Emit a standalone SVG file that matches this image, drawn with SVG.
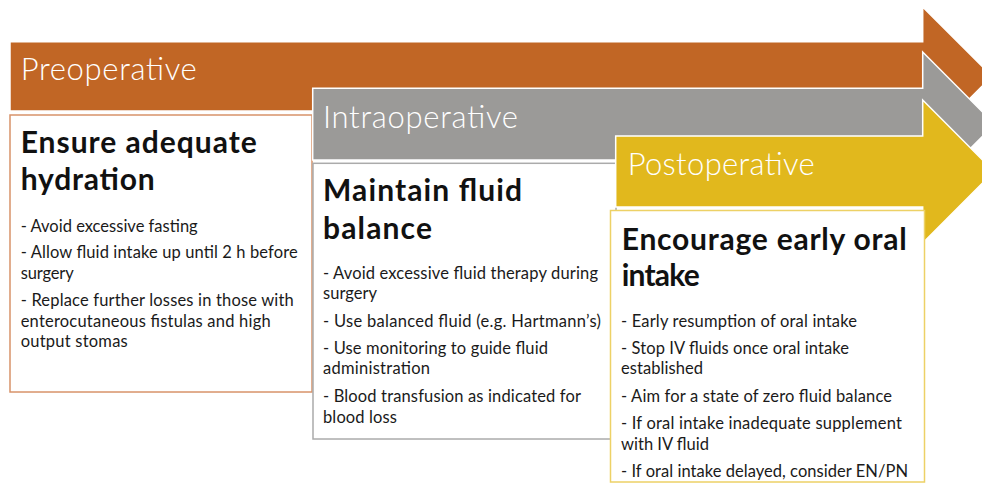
<svg xmlns="http://www.w3.org/2000/svg" width="982" height="483" viewBox="0 0 982 483">
  <style>
    .arrow { stroke: #ffffff; stroke-width: 1.5; stroke-linejoin: miter; }
    .pre-fill { fill: #C16625; }
    .intra-fill { fill: #9B9A98; }
    .post-fill { fill: #E1B81D; }
    .box { fill: #ffffff; stroke-width: 1.5; }
    .pre-box { stroke: #D8936A; }
    .intra-box { stroke: #ABABAB; }
    .post-box { stroke: #EDD166; }
    .phase { font-family: Lato, "Liberation Sans", sans-serif; font-weight: 300; font-size: 31px; fill: #ffffff; }
    .title { font-family: Lato, "Liberation Sans", sans-serif; font-weight: 700; font-size: 30px; fill: #111111; }
    .item { font-family: Lato, "Liberation Sans", sans-serif; font-size: 16.5px; fill: #1a1a1a; }
  </style>

  <!-- Preoperative phase -->
  <g id="preoperative">
    <path class="arrow pre-fill" d="M10,41.7 H922.7 V7 L992,76.3 L922.7,145.6 V111 H10 Z"/>
    <text class="phase" x="20.7" y="80" textLength="176">Preoperative</text>
    <rect class="box pre-box" x="10" y="115" width="302" height="277"/>
    <text class="title" x="20.7" y="153" textLength="236">Ensure adequate</text>
    <text class="title" x="20.7" y="190" textLength="134">hydration</text>
    <text class="item" x="20.7" y="232" textLength="177">- Avoid excessive fasting</text>
    <text class="item" x="20.7" y="258" textLength="277">- Allow fluid intake up until 2 h before</text>
    <text class="item" x="20.7" y="279" textLength="53">surgery</text>
    <text class="item" x="20.7" y="306" textLength="273">- Replace further losses in those with</text>
    <text class="item" x="20.7" y="327" textLength="250">enterocutaneous fistulas and high</text>
    <text class="item" x="20.7" y="347" textLength="107">output stomas</text>
  </g>

  <!-- Intraoperative phase -->
  <g id="intraoperative">
    <path class="arrow intra-fill" d="M312.7,88.3 H922.7 V52 L994.7,124.2 L922.7,196.4 V160 H312.7 Z"/>
    <text class="phase" x="323" y="128" textLength="195">Intraoperative</text>
    <rect class="box intra-box" x="313" y="163.3" width="303" height="275.7"/>
    <text class="title" x="323" y="201" textLength="199">Maintain fluid</text>
    <text class="title" x="323" y="239" textLength="109">balance</text>
    <text class="item" x="323" y="279" textLength="275">- Avoid excessive fluid therapy during</text>
    <text class="item" x="323" y="299" textLength="54">surgery</text>
    <text class="item" x="323" y="327" textLength="278">- Use balanced fluid (e.g. Hartmann’s)</text>
    <text class="item" x="323" y="354" textLength="225">- Use monitoring to guide fluid</text>
    <text class="item" x="323" y="374" textLength="107">administration</text>
    <text class="item" x="323" y="402" textLength="258">- Blood transfusion as indicated for</text>
    <text class="item" x="323" y="423" textLength="74">blood loss</text>
  </g>

  <!-- Postoperative phase -->
  <g id="postoperative">
    <path class="arrow post-fill" d="M615.7,136 H922.7 V100 L994,171.5 L922.7,243 V207 H615.7 Z"/>
    <text class="phase" x="627.7" y="175" textLength="187">Postoperative</text>
    <rect class="box post-box" x="610.5" y="210.5" width="314" height="271.5"/>
    <text class="title" x="621.7" y="250" textLength="285">Encourage early oral</text>
    <text class="title" x="621.7" y="286" textLength="78">intake</text>
    <text class="item" x="621" y="326.5" textLength="236">- Early resumption of oral intake</text>
    <text class="item" x="621" y="354" textLength="228">- Stop IV fluids once oral intake</text>
    <text class="item" x="621" y="374" textLength="82">established</text>
    <text class="item" x="621" y="402" textLength="271">- Aim for a state of zero fluid balance</text>
    <text class="item" x="621" y="429" textLength="281">- If oral intake inadequate supplement</text>
    <text class="item" x="621" y="450" textLength="88">with IV fluid</text>
    <text class="item" x="621" y="477" textLength="287">- If oral intake delayed, consider EN/PN</text>
  </g>
</svg>
